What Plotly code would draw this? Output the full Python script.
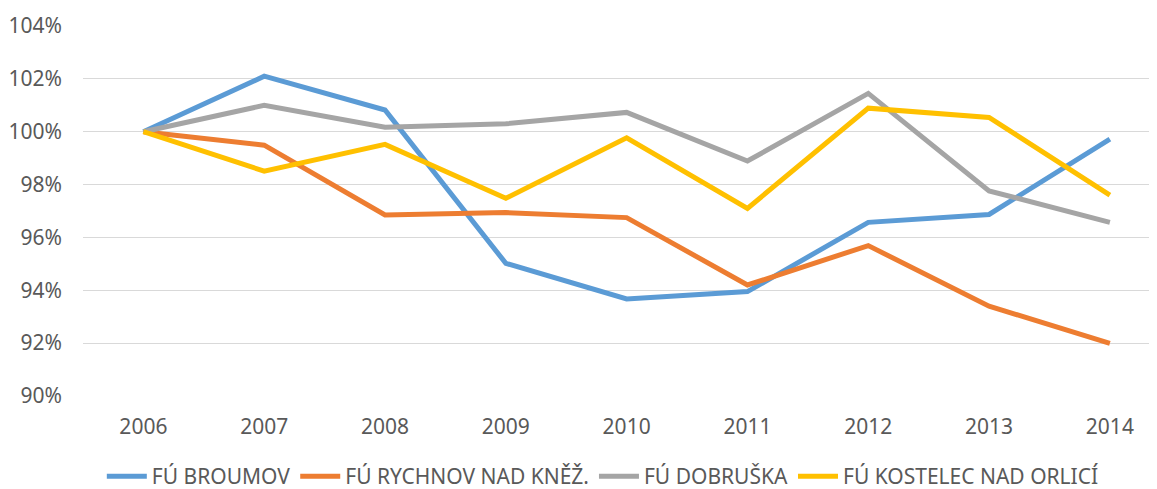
import plotly.graph_objects as go

years = ["2006", "2007", "2008", "2009", "2010", "2011", "2012", "2013", "2014"]

broumov = [100.0, 102.1, 100.82, 95.02, 93.67, 93.95, 96.57, 96.87, 99.72]
rychnov = [100.0, 99.49, 96.85, 96.94, 96.75, 94.2, 95.69, 93.4, 91.99]
dobruska = [100.0, 101.0, 100.17, 100.3, 100.73, 98.89, 101.45, 97.76, 96.57]
kostelec = [100.0, 98.51, 99.52, 97.48, 99.77, 97.1, 100.89, 100.54, 97.6]

series_names = ["FÚ BROUMOV", "FÚ RYCHNOV NAD KNĚŽ.", "FÚ DOBRUŠKA", "FÚ KOSTELEC NAD ORLICÍ"]
colors = ["#5B9BD5", "#ED7D31", "#A5A5A5", "#FFC000"]

y_ticks = [90, 92, 94, 96, 98, 100, 102, 104]

fig = go.Figure()
for name, vals, col in zip(series_names, [broumov, rychnov, dobruska, kostelec], colors):
    fig.add_trace(go.Scatter(
        x=list(range(len(years))),
        y=vals,
        mode="lines",
        name=name,
        line=dict(width=5, color=col)
    ))

# the page adds ~8px body margin, so the figure is a bit smaller than the window
fig.update_layout(
    width=1149,
    height=481,
    margin=dict(l=75, r=0, t=18, b=93, autoexpand=False),
    plot_bgcolor="white",
    paper_bgcolor="white",
    font=dict(family="Noto Sans", size=21, color="#595959"),
    showlegend=True,
    legend=dict(
        orientation="h",
        x=0.484,
        xanchor="center",
        yref="container",
        y=0.026,
        yanchor="middle",
        font=dict(size=21, color="#595959"),
        itemwidth=40,
        tracegroupgap=0,
    ),
    xaxis=dict(
        range=[-0.5, 8.39],
        tickmode="array",
        tickvals=list(range(len(years))),
        ticktext=years,
        showgrid=False,
        zeroline=False,
        showline=False,
        ticks="",
        ticklabelstandoff=16,
    ),
    yaxis=dict(
        range=[90, 104],
        tickmode="array",
        tickvals=y_ticks,
        ticktext=[f"{v}%" for v in y_ticks],
        showgrid=True,
        gridcolor="#D9D9D9",
        gridwidth=1.3,
        zeroline=False,
        showline=False,
        ticks="",
        ticklabelstandoff=20,
    ),
)

fig.write_html("out.html")
